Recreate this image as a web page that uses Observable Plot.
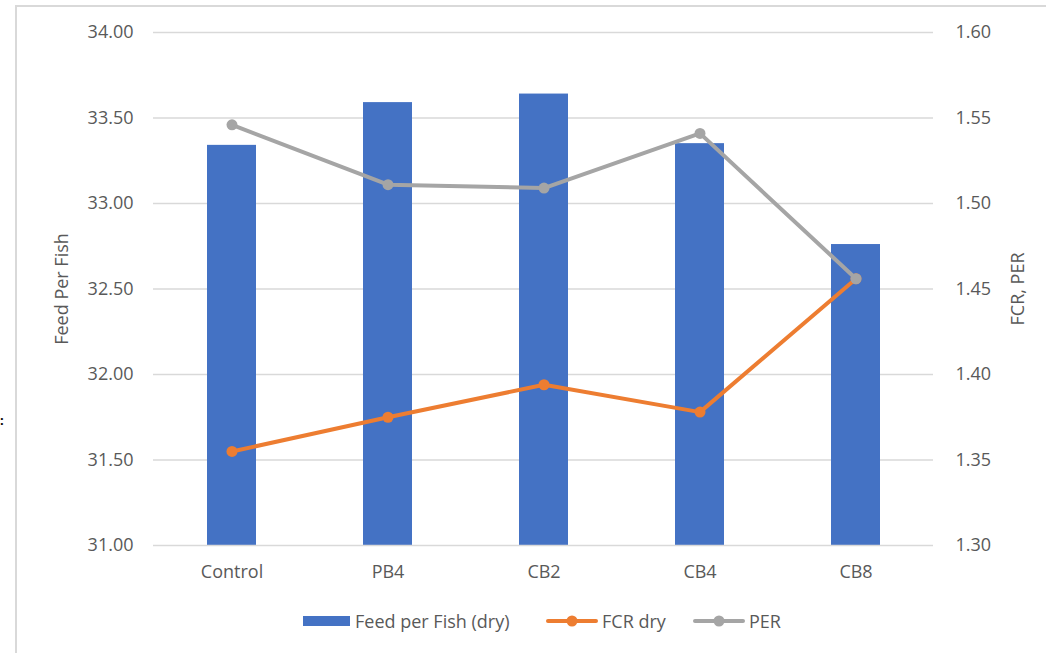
<!DOCTYPE html>
<html>
<head>
<meta charset="utf-8">
<script src="https://cdn.jsdelivr.net/npm/d3@7"></script>
<script src="https://cdn.jsdelivr.net/npm/@observablehq/plot@0.6"></script>
<style>
  body { margin: 0; background: #fff; font-family: "Open Sans", Lato, sans-serif; }
  #wrap { position: relative; width: 1046px; height: 653px; overflow: hidden; }
  #frame { position: absolute; left: 15px; top: 5px; width: 1100px; height: 700px;
           border-left: 2px solid #D9D9D9; border-top: 2px solid #D9D9D9; }
  #chart { position: absolute; left: 0; top: 0; }
  #legend { position: absolute; left: 0; top: 608px; width: 1046px; height: 26px;
            font-size: 18px; color: #595959; }
  .li { position: absolute; top: 0; height: 26px; line-height: 26px; white-space: nowrap; }
  #mark { position: absolute; left: 0px; top: 412px; font-size: 13px; line-height: 16px; color: #000; font-weight: bold; }
</style>
</head>
<body>
<div id="wrap">
  <div id="frame"></div>
  <div id="chart"></div>
  <div id="mark">:</div>
  <div id="legend"></div>
</div>
<script>
const categories = ["Control", "PB4", "CB2", "CB4", "CB8"];
const feedPerFish = [33.34, 33.59, 33.64, 33.35, 32.76];
const fcrDry = [1.355, 1.375, 1.394, 1.378, 1.456];
const per = [1.546, 1.511, 1.509, 1.541, 1.456];
const leftTicks = [31.0, 31.5, 32.0, 32.5, 33.0, 33.5, 34.0];
const rightTicks = [1.30, 1.35, 1.40, 1.45, 1.50, 1.55, 1.60];

const BLUE = "#4472C4", ORANGE = "#ED7D31", GRAY = "#A5A5A5", GRID = "#D9D9D9", TEXT = "#595959";
const FONT = "'Open Sans', Lato, sans-serif";

// map right-axis values onto the left-axis domain
const toLeft = v => 31 + (v - 1.30) * 10;
const fromLeft = d => (d - 31) / 10 + 1.30;

const bars = categories.map((c, i) => ({cat: c, v: feedPerFish[i]}));
const fcr = categories.map((c, i) => ({cat: c, v: toLeft(fcrDry[i])}));
const perD = categories.map((c, i) => ({cat: c, v: toLeft(per[i])}));

const plot = Plot.plot({
  width: 1046,
  height: 600,
  marginLeft: 153,
  marginRight: 113,
  marginTop: 32,
  marginBottom: 55,
  style: { fontFamily: FONT, fontSize: "18px", color: TEXT, background: "transparent" },
  x: { domain: categories, paddingInner: 0.686, paddingOuter: 0.343, label: null },
  y: { domain: [31, 34], label: null },
  marks: [
    Plot.ruleY(leftTicks.slice(1), { stroke: GRID, strokeWidth: 1.5 }),
    Plot.barY(bars, { x: "cat", y1: 31, y2: "v", fill: BLUE }),
    Plot.ruleY([31], { stroke: GRID, strokeWidth: 1.5 }),
    Plot.axisX({ tickSize: 0, tickPadding: 20, fontSize: 18, fill: TEXT, label: null }),
    Plot.axisY({ ticks: leftTicks, tickSize: 0, tickPadding: 20, tickFormat: d => d.toFixed(2),
                 fontSize: 18, fill: TEXT, label: null }),
    Plot.axisY({ anchor: "right", ticks: rightTicks.map(toLeft), tickSize: 0, tickPadding: 22,
                 tickFormat: d => fromLeft(d).toFixed(2), fontSize: 18, fill: TEXT, label: null }),
    Plot.lineY(fcr, { x: "cat", y: "v", stroke: ORANGE, strokeWidth: 4, strokeLinecap: "round", strokeLinejoin: "round" }),
    Plot.dot(fcr, { x: "cat", y: "v", fill: ORANGE, r: 5.5 }),
    Plot.lineY(perD, { x: "cat", y: "v", stroke: GRAY, strokeWidth: 4, strokeLinecap: "round", strokeLinejoin: "round" }),
    Plot.dot(perD, { x: "cat", y: "v", fill: GRAY, r: 5.5 }),
    Plot.text(["Feed Per Fish"], { frameAnchor: "left", dx: -153 + 62, rotate: -90, textAnchor: "middle", fontSize: 18, fill: TEXT }),
    Plot.text(["FCR, PER"], { frameAnchor: "right", dx: 1018 - 933, rotate: -90, textAnchor: "middle", fontSize: 18, fill: TEXT })
  ]
});
document.getElementById("chart").appendChild(plot);

// legend
const legend = document.getElementById("legend");
const items = [
  { label: "Feed per Fish (dry)", color: BLUE, type: "bar", x: 303 },
  { label: "FCR dry", color: ORANGE, type: "line", x: 546 },
  { label: "PER", color: GRAY, type: "line", x: 693 }
];
items.forEach(it => {
  const d = document.createElement("div");
  d.className = "li";
  d.style.left = it.x + "px";
  let sym;
  if (it.type === "bar") {
    sym = `<svg width="48" height="26" style="vertical-align:top"><rect x="0" y="8" width="47" height="10" fill="${it.color}"/></svg>`;
  } else {
    sym = `<svg width="52" height="26" style="vertical-align:top"><line x1="2" y1="13" x2="50" y2="13" stroke="${it.color}" stroke-width="4" stroke-linecap="round"/><circle cx="26" cy="13" r="5.5" fill="${it.color}"/></svg>`;
  }
  d.innerHTML = sym + `<span style="margin-left:4px">${it.label}</span>`;
  legend.appendChild(d);
});
</script>
</body>
</html>
